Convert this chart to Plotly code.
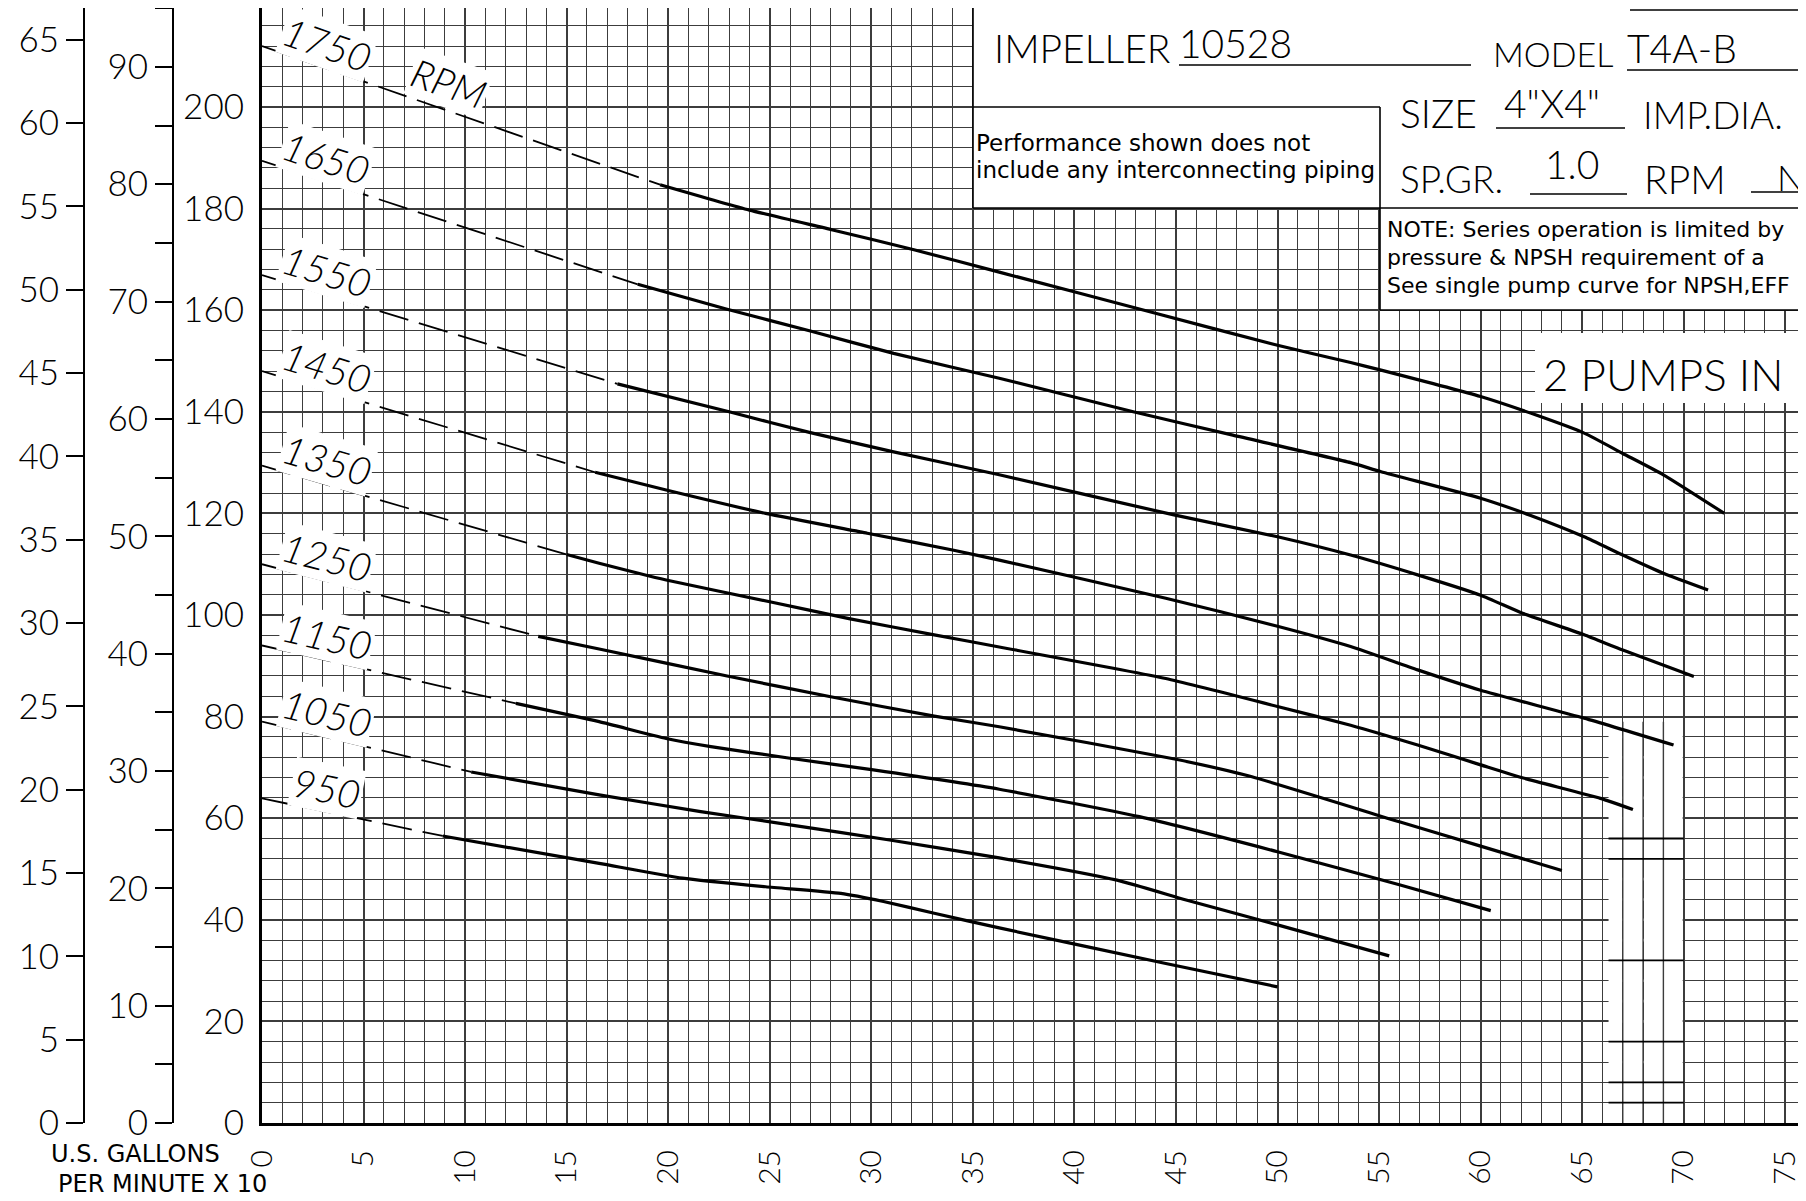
import math
import plotly.graph_objects as go

# ---------------- data (flow in U.S. GPM x 10, total head in feet) ----------------
rpm_speeds = [1750, 1650, 1550, 1450, 1350, 1250, 1150, 1050, 950]
shutoff_head_ft = [212.0, 189.4, 166.9, 148.0, 129.4, 110.0, 94.0, 79.0, 63.9]

flow_1750 = [19.6, 24.0, 28.1, 32.1, 36.3, 43.9, 50.0, 53.6, 55.1, 60.0, 62.7, 65.1, 67.0, 69.0, 72.0]
head_1750 = [184.7, 179.7, 175.8, 171.9, 167.5, 159.5, 153.1, 149.7, 148.2, 143.0, 139.4, 135.8, 131.8, 127.6, 120.0]

flow_1650 = [18.5, 22.9, 27.0, 31.1, 36.3, 42.9, 47.8, 53.6, 55.1, 60.0, 62.4, 65.1, 67.0, 69.0, 71.2]
head_1650 = [165.1, 160.2, 155.9, 151.5, 146.6, 140.0, 135.4, 130.0, 128.2, 123.0, 119.7, 115.4, 111.8, 108.2, 104.9]

flow_1550 = [17.5, 23.0, 27.0, 31.1, 36.3, 44.9, 50.0, 53.6, 56.9, 60.0, 62.1, 65.1, 67.0, 70.5]
head_1550 = [145.5, 140.0, 135.9, 132.1, 127.6, 119.7, 115.4, 111.8, 107.9, 103.9, 100.3, 96.1, 93.1, 87.9]

flow_1450 = [16.4, 19.9, 24.8, 29.8, 34.0, 36.3, 44.5, 50.0, 53.6, 56.9, 60.0, 65.1, 69.5]
head_1450 = [128.1, 124.6, 120.0, 116.1, 112.8, 110.8, 103.3, 97.8, 93.8, 89.2, 85.2, 79.7, 74.4]

flow_1350 = [15.0, 16.6, 19.9, 25.0, 28.9, 33.1, 36.3, 44.5, 50.0, 53.6, 56.9, 60.0, 62.1, 65.9, 67.5]
head_1350 = [111.9, 110.2, 106.9, 102.6, 99.3, 96.1, 93.7, 87.5, 82.0, 78.3, 74.4, 70.5, 67.9, 63.9, 61.7]

flow_1250 = [13.6, 16.6, 22.9, 28.0, 33.1, 36.3, 45.0, 48.7, 56.0, 60.0, 64.0]
head_1250 = [95.8, 93.3, 88.0, 83.9, 80.1, 78.0, 71.6, 68.2, 59.3, 54.5, 49.7]

flow_1150 = [12.5, 16.6, 19.9, 22.1, 26.0, 30.1, 36.3, 43.2, 50.0, 56.0, 60.5]
head_1150 = [82.6, 79.0, 75.7, 74.1, 71.8, 69.5, 65.7, 60.3, 53.4, 46.9, 41.8]

flow_1050 = [10.3, 16.6, 21.6, 26.0, 30.9, 36.3, 42.1, 45.5, 50.0, 55.5]
head_1050 = [69.1, 64.6, 61.3, 58.7, 55.7, 52.2, 47.8, 43.9, 39.0, 32.9]

flow_950 = [8.9, 16.6, 20.7, 24.8, 28.5, 30.6, 33.1, 36.3, 44.5, 50.0]
head_950 = [56.5, 51.1, 48.2, 46.5, 45.2, 43.6, 41.3, 38.4, 31.4, 26.8]

curve_flows = [flow_1750, flow_1650, flow_1550, flow_1450, flow_1350, flow_1250, flow_1150, flow_1050, flow_950]
curve_heads = [head_1750, head_1650, head_1550, head_1450, head_1350, head_1250, head_1150, head_1050, head_950]

x_tick_values = list(range(0, 80, 5))
feet_tick_values = list(range(0, 201, 20))
meter_tick_values = list(range(0, 66, 5))
psi_tick_values = list(range(0, 91, 10))

# ---------------- layout geometry (screen pixels; page body adds an 8px offset) ----------------
OFF = 8
W, H = 1806 - OFF, 1201 - OFF
PLOT_LEFT = 262 - OFF
PLOT_BOTTOM = 1123 - OFF
PX_PER_UNIT = 20.31       # px per 10 GPM
PX_PER_FT = 5.08          # px per foot
X_MAX = (W - PLOT_LEFT) / PX_PER_UNIT
Y_MAX = PLOT_BOTTOM / PX_PER_FT
FT_PER_M = 3.2808
FT_PER_PSI = 2.31

CAD_FONT = "Lato, DejaVu Sans, sans-serif"
NOTE_FONT = "DejaVu Sans, sans-serif"
TICK_FONT = dict(family=CAD_FONT, size=35, color="black", weight=300)
GRID = "#3c3c3c"


def px(xs):
    return (xs - OFF) / W


def py(ys):
    return (PLOT_BOTTOM - (ys - OFF)) / PLOT_BOTTOM


fig = go.Figure()

for rpm, h0, q, h in zip(rpm_speeds, shutoff_head_ft, curve_flows, curve_heads):
    fig.add_trace(go.Scatter(
        x=[0, q[0]], y=[h0, h[0]], mode="lines",
        line=dict(color="black", width=1.8, dash="30px,11px"),
        hoverinfo="skip", showlegend=False))
    fig.add_trace(go.Scatter(
        x=q, y=h, mode="lines", name=f"{rpm} RPM",
        line=dict(color="black", width=3.2, shape="spline", smoothing=0.5),
        showlegend=False))

# invisible helpers so the secondary head scales render
fig.add_trace(go.Scatter(x=[0], y=[0], yaxis="y2", mode="markers",
                         marker=dict(opacity=0), hoverinfo="skip", showlegend=False))
fig.add_trace(go.Scatter(x=[0], y=[0], yaxis="y3", mode="markers",
                         marker=dict(opacity=0), hoverinfo="skip", showlegend=False))

annotations = []

# RPM labels along the dashed shut-off lines
LABEL_Q = 3.2
LABEL_OFFSET_FT = 4.8
LABEL_FONT = dict(family=CAD_FONT, size=39, color="black", style="italic", weight=300)
for rpm, h0, q, h in zip(rpm_speeds, shutoff_head_ft, curve_flows, curve_heads):
    slope = (h0 - h[0]) / q[0]
    angle = math.degrees(math.atan(slope * PX_PER_FT / PX_PER_UNIT))
    annotations.append(dict(
        x=LABEL_Q, y=h0 - slope * LABEL_Q + LABEL_OFFSET_FT, xref="x", yref="y",
        text=str(rpm), showarrow=False, textangle=angle, font=LABEL_FONT,
        bgcolor="white", borderpad=1))
    if rpm == rpm_speeds[0]:
        rq = 9.2
        annotations.append(dict(
            x=rq, y=h0 - slope * rq + 5.6, xref="x", yref="y",
            text="RPM", showarrow=False, textangle=angle, font=LABEL_FONT,
            bgcolor="white", borderpad=1))


def txt(x, y, s, size, family=CAD_FONT, weight=300):
    annotations.append(dict(x=px(x), y=py(y), xref="paper", yref="paper",
                            xanchor="left", yanchor="middle", align="left", text=s,
                            showarrow=False,
                            font=dict(family=family, size=size, color="black", weight=weight)))


# title block texts
txt(992, 48, "IMPELLER", 39)
txt(1177, 43, "10528", 39)
txt(1491, 53, "MODEL", 34)
txt(1625, 48, "T4A-B", 39)
txt(1398, 113, "SIZE", 39)
txt(1502, 103, "4\"X4\"", 39)
txt(1641, 114, "IMP.DIA.", 37)
txt(1398, 179, "SP.GR.", 37)
txt(1543, 164, "1.0", 39)
txt(1642, 179, "RPM", 39)
txt(1775, 177, "N", 36)
txt(974, 143, "Performance shown does not", 23, NOTE_FONT, 400)
txt(974, 170, "include any interconnecting piping", 23, NOTE_FONT, 400)
txt(1385, 230, "NOTE: Series operation is limited by", 22, NOTE_FONT, 400)
txt(1385, 257, "pressure & NPSH requirement of a", 22, NOTE_FONT, 400)
txt(1385, 285, "See single pump curve for NPSH,EFF", 22, NOTE_FONT, 400)
txt(1541, 374, "2 PUMPS IN", 44)
txt(49, 1154, "U.S. GALLONS", 24, NOTE_FONT, 400)
txt(56, 1184, "PER MINUTE X 10", 24, NOTE_FONT, 400)

shapes = []


def rect(x0, y0, x1, y1):
    shapes.append(dict(type="rect", xref="paper", yref="paper",
                       x0=px(x0), x1=px(x1), y0=py(y1), y1=py(y0),
                       fillcolor="white", line=dict(width=0), layer="above"))


def hline(x0, x1, y, w=1.6):
    shapes.append(dict(type="line", xref="paper", yref="paper",
                       x0=px(x0), x1=px(x1), y0=py(y), y1=py(y),
                       line=dict(color="black", width=w), layer="above"))


def vline(x, y0, y1, w=1.6):
    shapes.append(dict(type="line", xref="paper", yref="paper",
                       x0=px(x), x1=px(x), y0=py(y0), y1=py(y1),
                       line=dict(color="black", width=w), layer="above"))


rect(973, 0, 1820, 208)
rect(1380, 208, 1820, 310)
rect(1535, 333, 1820, 403)
vline(973, 0, 208)
hline(973, 1820, 208)
hline(973, 1380, 107)
vline(1380, 107, 310)
hline(1380, 1820, 310)
# underlines of the title block
hline(1179, 1471, 65, 1.4)
hline(1627, 1820, 70, 1.4)
hline(1630, 1820, 10, 1.4)
hline(1496, 1625, 128, 1.4)
hline(1801, 1820, 128, 1.4)
hline(1530, 1627, 194, 1.4)
hline(1751, 1820, 192, 1.4)

# strip near the lower right where most horizontal rules are missing
GAP_X0, GAP_X1, GAP_TOP = 66.3, 69.95, 79.0
gap_rows_removed = [12, 20, 24, 28, 36, 40, 44, 48, 60, 64, 68, 72, 76]
gap_rows_kept = [4, 8, 16, 32, 52, 56]
gap_cols = [67, 68, 69]
for r in gap_rows_removed:
    shapes.append(dict(type="line", xref="x", yref="y", x0=GAP_X0, x1=GAP_X1, y0=r, y1=r,
                       line=dict(color="white", width=2.6), layer="between"))
for c in gap_cols:
    shapes.append(dict(type="line", xref="x", yref="y", x0=c, x1=c, y0=0, y1=GAP_TOP,
                       line=dict(color=GRID, width=1.4), layer="between"))
for r in gap_rows_kept:
    shapes.append(dict(type="line", xref="x", yref="y", x0=GAP_X0, x1=70, y0=r, y1=r,
                       line=dict(color="black", width=1.8), layer="between"))

axis_common = dict(automargin=False, zeroline=False)

fig.update_layout(
    width=W, height=H,
    margin=dict(l=0, r=0, t=0, b=H - PLOT_BOTTOM, pad=0, autoexpand=False),
    paper_bgcolor="white", plot_bgcolor="white", showlegend=False,
    xaxis=dict(
        domain=[PLOT_LEFT / W, 1], range=[0, X_MAX],
        tickmode="array", tickvals=x_tick_values, tickangle=-90,
        tickfont=dict(family=CAD_FONT, size=30, color="black", weight=300),
        ticks="", ticklabelstandoff=12,
        showgrid=True, gridcolor=GRID, gridwidth=1.5,
        minor=dict(dtick=1, tick0=0, showgrid=True, gridcolor=GRID, gridwidth=1.4),
        showline=True, linecolor="black", linewidth=3, **axis_common),
    yaxis=dict(
        range=[0, Y_MAX], tickmode="array", tickvals=feet_tick_values,
        tickfont=TICK_FONT, ticks="", ticklabelstandoff=8,
        showgrid=True, gridcolor=GRID, gridwidth=1.5,
        minor=dict(dtick=4, tick0=0, showgrid=True, gridcolor=GRID, gridwidth=1.4),
        showline=True, linecolor="black", linewidth=3, **axis_common),
    yaxis2=dict(
        overlaying="y", anchor="free", position=(84 - OFF) / W, side="left",
        range=[0, Y_MAX / FT_PER_M], tickmode="array", tickvals=meter_tick_values,
        tickfont=TICK_FONT, ticks="outside", ticklen=17, tickwidth=2, tickcolor="black",
        showgrid=False, showline=True, linecolor="black", linewidth=2, **axis_common),
    yaxis3=dict(
        overlaying="y", anchor="free", position=(173 - OFF) / W, side="left",
        range=[0, Y_MAX / FT_PER_PSI], tickmode="array", tickvals=psi_tick_values,
        tickfont=TICK_FONT, ticks="outside", ticklen=17, tickwidth=2, tickcolor="black",
        minor=dict(dtick=5, tick0=0, ticks="outside", ticklen=17, tickwidth=2,
                   tickcolor="black", showgrid=False),
        showgrid=False, showline=True, linecolor="black", linewidth=2, **axis_common),
    annotations=annotations,
    shapes=shapes,
)

fig.write_html("out.html")
